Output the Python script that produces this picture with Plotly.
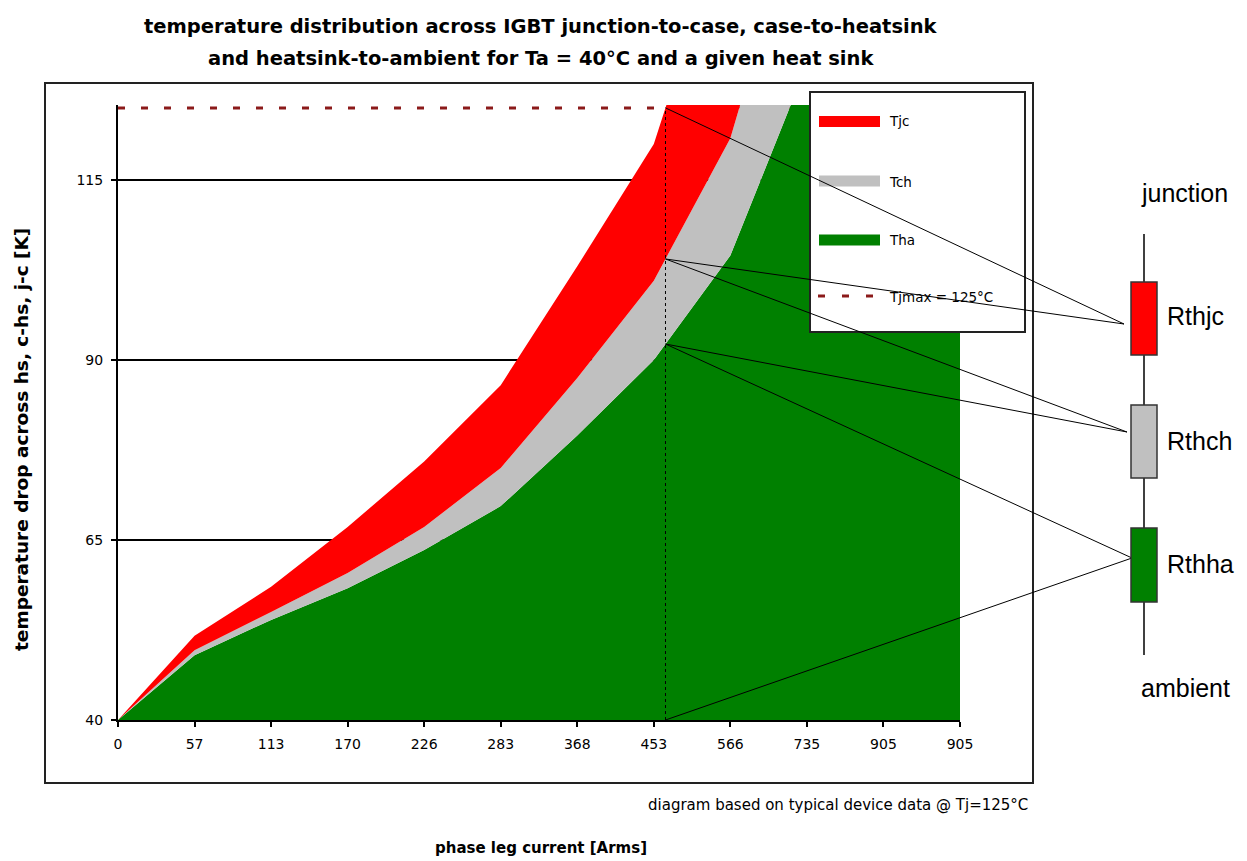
import plotly.graph_objects as go

# ---------------- data ----------------
current_labels = ["0", "57", "113", "170", "226", "283", "368", "453", "566", "735", "905", "905"]
ta = 40  # ambient temperature [°C]
tha = [0, 9.0, 13.9, 18.3, 23.6, 29.7, 39.5, 50.0, 64.5, 91.0, 120.0, 120.0]   # heatsink-to-ambient drop
tch = [0, 0.7, 1.1, 2.1, 3.2, 5.3, 8.0, 11.0, 16.3, 25.0, 33.0, 33.0]           # case-to-heatsink drop
tjc = [0, 2.0, 3.5, 6.4, 9.1, 11.5, 15.5, 19.0, 32.0, 45.0, 60.0, 60.0]         # junction-to-case drop
tjmax = 125
y_ticks = [40, 65, 90, 115]

x_idx = list(range(len(current_labels)))
base = [ta] * len(x_idx)

# ---------------- geometry helpers (page pixel -> paper) ----------------
OFF = 8  # default page margin of the html body
W, H = 1239, 853
L, R, T, B = 110, 287, 97, 141
PW, PH = W - L - R, H - T - B
YMIN, YMAX = 40, 125.4
XMIN, XMAX = 0, len(x_idx) - 1


def px(x):
    return (x - OFF - L) / PW


def py(y):
    return (H - B - (y - OFF)) / PH


def dx(i):  # data x (category index) -> paper
    return (i - XMIN) / (XMAX - XMIN)


def dy(v):  # data y -> paper
    return (v - YMIN) / (YMAX - YMIN)


RED, GRAY, GREEN = "#FF0000", "#C0C0C0", "#008000"
DASH = "#8B1A1A"

fig = go.Figure()

# Tjmax dashed line
fig.add_trace(go.Scatter(x=x_idx, y=[tjmax] * len(x_idx), mode="lines",
                         line=dict(color=DASH, width=3, dash="7px,16px"),
                         name="Tjmax = 125°C", hoverinfo="skip"))
# stacked areas on top of ambient
fig.add_trace(go.Scatter(x=x_idx, y=base, mode="lines", stackgroup="s",
                         line=dict(width=0), fillcolor="rgba(0,0,0,0)",
                         showlegend=False, hoverinfo="skip"))
fig.add_trace(go.Scatter(x=x_idx, y=tha, mode="lines", stackgroup="s",
                         line=dict(width=0, color=GREEN), fillcolor=GREEN, name="Tha"))
fig.add_trace(go.Scatter(x=x_idx, y=tch, mode="lines", stackgroup="s",
                         line=dict(width=0, color=GRAY), fillcolor=GRAY, name="Tch"))
fig.add_trace(go.Scatter(x=x_idx, y=tjc, mode="lines", stackgroup="s",
                         line=dict(width=0, color=RED), fillcolor=RED, name="Tjc"))

# ---------------- where Tj reaches Tjmax ----------------
green_top = [ta + a for a in tha]
gray_top = [g + b for g, b in zip(green_top, tch)]
red_top = [g + c for g, c in zip(gray_top, tjc)]
cross = None
for i in range(1, len(red_top)):
    if red_top[i - 1] < tjmax <= red_top[i]:
        f = (tjmax - red_top[i - 1]) / (red_top[i] - red_top[i - 1])
        cross = (i - 1 + f, f, i)
        break
ci, f, i1 = cross
g_at = green_top[i1 - 1] + f * (green_top[i1] - green_top[i1 - 1])
c_at = gray_top[i1 - 1] + f * (gray_top[i1] - gray_top[i1 - 1])

shapes = []
# outer chart frame
shapes.append(dict(type="rect", xref="paper", yref="paper", x0=px(45), x1=px(1033), y0=py(783), y1=py(83),
                   line=dict(color="#222222", width=2), fillcolor="rgba(0,0,0,0)", layer="below"))
# legend box
shapes.append(dict(type="rect", xref="paper", yref="paper", x0=px(810), x1=px(1025), y0=py(332), y1=py(92),
                   line=dict(color="#222222", width=2), fillcolor="white"))
# legend symbols
for col, yy in [(RED, 121.5), (GRAY, 181), (GREEN, 240)]:
    shapes.append(dict(type="rect", xref="paper", yref="paper", x0=px(819), x1=px(880),
                       y0=py(yy + 5.5), y1=py(yy - 5.5), line=dict(width=0), fillcolor=col))
shapes.append(dict(type="line", xref="paper", yref="paper", x0=px(818), x1=px(880), y0=py(296), y1=py(296),
                   line=dict(color=DASH, width=3, dash="7px,17px")))
# dotted vertical at Tjmax current
shapes.append(dict(type="line", xref="x", yref="y", x0=ci, x1=ci, y0=YMIN, y1=tjmax,
                   line=dict(color="black", width=1, dash="dot")))

# resistor network
res_x = 1144
r_red = (1124, 324)
r_gray = (1127, 432)
r_green = (1132, 558)
pts = {
    "top": (dx(ci), dy(tjmax)),
    "gray": (dx(ci), dy(c_at)),
    "green": (dx(ci), dy(g_at)),
    "bottom": (dx(ci), dy(ta)),
}
for p, tgt in [("top", r_red), ("gray", r_red), ("gray", r_gray), ("green", r_gray),
               ("green", r_green), ("bottom", r_green)]:
    x0, y0 = pts[p]
    shapes.append(dict(type="line", xref="paper", yref="paper", x0=x0, y0=y0, x1=px(tgt[0]), y1=py(tgt[1]),
                       line=dict(color="black", width=1)))

shapes.append(dict(type="line", xref="paper", yref="paper", x0=px(res_x), x1=px(res_x), y0=py(655), y1=py(234),
                   line=dict(color="black", width=1.5)))
for col, (ya, yb) in [(RED, (282, 355)), (GRAY, (405, 478)), (GREEN, (528, 602))]:
    shapes.append(dict(type="rect", xref="paper", yref="paper", x0=px(1131), x1=px(1157), y0=py(yb), y1=py(ya),
                       line=dict(color="#333333", width=1.5), fillcolor=col))

annotations = []
TF = "DejaVu Sans"
annotations.append(dict(text="<b>temperature distribution across IGBT junction-to-case, case-to-heatsink</b>",
                        xref="paper", yref="paper", x=px(541), y=py(26), showarrow=False,
                        font=dict(family=TF, size=19.5, color="black"), xanchor="center", yanchor="middle"))
annotations.append(dict(text="<b>and heatsink-to-ambient for Ta = 40°C and a given heat sink</b>",
                        xref="paper", yref="paper", x=px(541), y=py(58), showarrow=False,
                        font=dict(family=TF, size=19.5, color="black"), xanchor="center", yanchor="middle"))
annotations.append(dict(text="<b>temperature drop across hs, c-hs, j-c [K]</b>", textangle=-90,
                        xref="paper", yref="paper", x=px(21), y=py(440), showarrow=False,
                        font=dict(family=TF, size=18.5, color="black"), xanchor="center", yanchor="middle"))
annotations.append(dict(text="<b>phase leg current [Arms]</b>",
                        xref="paper", yref="paper", x=px(541), y=py(848), showarrow=False,
                        font=dict(family=TF, size=15, color="black"), xanchor="center", yanchor="middle"))
annotations.append(dict(text="diagram based on typical device data @ Tj=125°C",
                        xref="paper", yref="paper", x=px(1030), y=py(805), showarrow=False,
                        font=dict(family=TF, size=15, color="black"), xanchor="right", yanchor="middle"))
for txt, yy in [("Tjc", 121), ("Tch", 182), ("Tha", 240), ("Tjmax = 125°C", 297)]:
    annotations.append(dict(text=txt, xref="paper", yref="paper", x=px(887), y=py(yy), showarrow=False,
                            font=dict(family=TF, size=13.5, color="black"), xanchor="left", yanchor="middle"))
AF = "Liberation Sans, Arial"
for txt, xx, yy, anc in [("junction", 1184, 193, "center"), ("ambient", 1185, 688, "center"),
                         ("Rthjc", 1165, 316, "left"), ("Rthch", 1165, 441, "left"),
                         ("Rthha", 1165, 564, "left")]:
    annotations.append(dict(text=txt, xref="paper", yref="paper", x=px(xx), y=py(yy), showarrow=False,
                            font=dict(family=AF, size=25, color="black"), xanchor=anc, yanchor="middle"))

fig.update_layout(
    width=W, height=H,
    margin=dict(l=L, r=R, t=T, b=B, pad=0),
    paper_bgcolor="white", plot_bgcolor="white",
    showlegend=False,
    shapes=shapes, annotations=annotations,
    xaxis=dict(range=[XMIN, XMAX], tickmode="array", tickvals=x_idx, ticktext=current_labels,
               showgrid=False, zeroline=False, showline=True, linecolor="black", linewidth=2,
               ticks="outside", ticklen=5, tickcolor="black", tickwidth=1.5, ticklabelstandoff=5,
               tickfont=dict(family=TF, size=14, color="black")),
    yaxis=dict(range=[YMIN, YMAX], tickmode="array", tickvals=y_ticks,
               showgrid=True, gridcolor="black", gridwidth=1.5, zeroline=False,
               showline=True, linecolor="black", linewidth=2,
               ticks="outside", ticklen=5, tickcolor="black", tickwidth=1.5, ticklabelstandoff=5,
               tickfont=dict(family=TF, size=14, color="black")),
)

fig.write_html("out.html")
